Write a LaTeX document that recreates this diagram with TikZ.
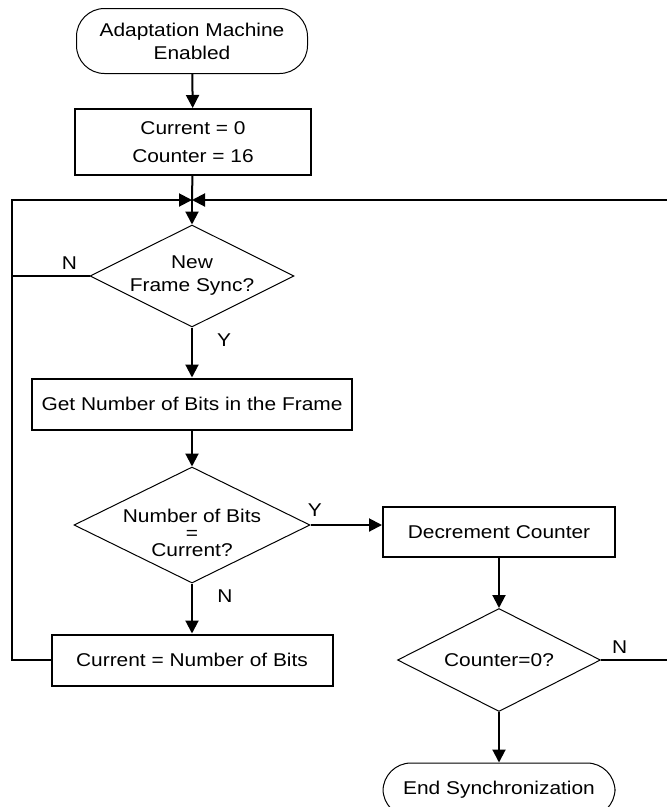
\documentclass[tikz,border=0pt]{standalone}
\usepackage{fontspec}
\setmainfont{Liberation Sans}[FakeStretch=1.13]
\usetikzlibrary{shapes.geometric, arrows.meta, positioning, calc}

\begin{document}
\begin{tikzpicture}[
  x=1pt, y=-1pt,
  font=\fontsize{18.5}{23}\selectfont,
  term/.style={rectangle, rounded corners=28pt, draw, line width=1pt, align=center, minimum width=232pt, minimum height=54pt},
  box/.style={rectangle, draw, line width=2pt, align=center, minimum height=51pt},
  decision/.style={diamond, draw, line width=1pt, align=center, inner sep=-25pt, shape aspect=2},
  arrow/.style={-{Triangle[length=13pt, width=13pt]}, line width=2pt},
  link/.style={line width=2pt},
  lbl/.style={inner sep=0pt}
]
\useasboundingbox (0,0) rectangle (667,807);

\node[term, minimum width=231pt, minimum height=65pt] (start) at (192,41) {Adaptation Machine\\Enabled};
\node[box, minimum width=236pt, minimum height=66pt] (init) at (193,142) {Current = 0\\[5pt]Counter = 16};
\coordinate (join) at (192,200);
\node[decision, minimum width=204pt, minimum height=102pt] (sync) at (192,276) {New\\Frame Sync?};
\node[box, minimum width=320pt] (getbits) at (192,404) {Get Number of Bits in the Frame};
\node[decision, minimum width=236pt, minimum height=116pt, text height=64pt, font=\fontsize{18.5}{17}\selectfont] (cmp) at (192,525) {Number of Bits\\=\\Current?};
\node[box, minimum width=232pt, minimum height=50pt] (dec) at (499,532) {Decrement Counter};
\node[box, minimum width=281pt] (setcur) at (192,660) {Current = Number of Bits};
\node[decision, minimum width=203pt, minimum height=103pt] (zero) at (499,660) {Counter=0?};
\node[term] (stop) at (499,790) {End Synchronization};

% loop-back rails
\coordinate (lft) at (12,0);
\coordinate (rgt) at (668,0);

\draw[arrow] (start) -- (init);
\draw[link] (init) -- (join);
\draw[arrow] (join) -- (sync);
\draw[arrow] (sync) -- node[lbl, pos=0.25, xshift=32pt] (ysync) {Y} (getbits);
\draw[link] (sync.west) -- node[lbl, pos=0.26, yshift=13pt] (nsync) {N} (lft |- sync.west);
\draw[arrow] (getbits) -- (cmp);
\draw[arrow] (cmp.east) -- node[lbl, pos=0.06, yshift=15pt] (ycmp) {Y} (cmp.east -| dec.west);
\draw[arrow] (cmp) -- node[lbl, pos=0.25, xshift=33pt] (ncmp) {N} (setcur);
\draw[arrow] (setcur.west) -- (lft |- setcur.west) -- (lft |- join) -- (join);
\draw[arrow] (dec) -- (zero);
\draw[arrow] (zero) -- (stop);
\draw[arrow] (zero.east) -- node[lbl, pos=0.28, yshift=13pt] (nzero) {N} (rgt |- zero.east) -- (rgt |- join) -- (join);

\end{tikzpicture}
\end{document}
